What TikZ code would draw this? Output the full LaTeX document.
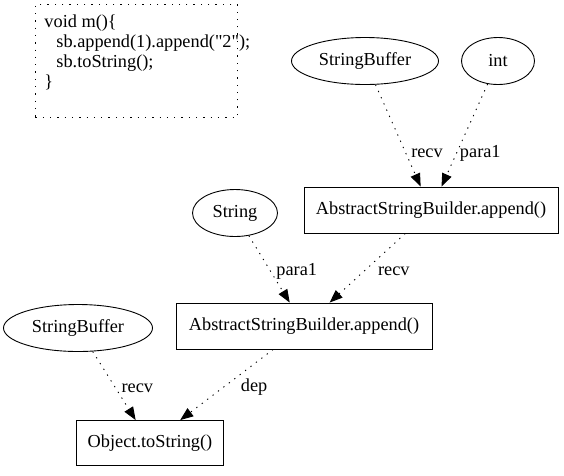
\documentclass[tikz,border=0pt]{standalone}
\usepackage{fontspec}
\setmainfont{Liberation Serif}
\newfontfamily\codefont{Liberation Serif}
\usetikzlibrary{arrows.meta, shapes.geometric}

\begin{document}
\begin{tikzpicture}[x=1pt, y=-1pt, line width=0.9pt,
    font=\fontsize{18.3}{20}\selectfont,
    obj/.style={draw, ellipse, minimum height=47pt, inner sep=0pt},
    call/.style={draw, rectangle, minimum height=46pt, inner sep=0pt},
    flow/.style={-{Triangle[length=13pt, width=10pt]}, dash pattern=on 1.3pt off 5.5pt},
    lbl/.style={anchor=base west, inner sep=0pt}]
  \useasboundingbox (0,0) rectangle (564,475);

  % source snippet
  \node[draw, dash pattern=on 1.3pt off 6pt, anchor=north west,
    minimum width=202pt, minimum height=113pt, inner sep=0pt] (code) at (35,4) {};
  \node[anchor=north west, align=left, inner sep=0pt, font=\codefont\fontsize{18.3}{20}\selectfont] (src) at (44,14)
    {void m()\{\\\hspace*{12pt}sb.append(1).append("2");\\\hspace*{12pt}sb.toString();\\\}};

  % nodes
  \node[obj, minimum width=147pt] (sb1) at (365,61) {StringBuffer};
  \node[obj, minimum width=73pt] (int) at (498,61) {int};
  \node[call, minimum width=254pt] (app1) at (431,210) {AbstractStringBuilder.append()};
  \node[obj, minimum width=85pt] (str) at (235,213) {String};
  \node[call, minimum width=256pt] (app2) at (304,326) {AbstractStringBuilder.append()};
  \node[obj, minimum width=149pt] (sb2) at (78,328) {StringBuffer};
  \node[call, minimum width=147pt, minimum height=45pt] (tostr) at (150,443) {Object.toString()};

  % edges
  \draw[flow] (sb1) -- node[lbl, pos=0.716, xshift=3pt] {recv} (app1);
  \draw[flow] (int) -- node[lbl, pos=0.718, xshift=5pt] {para1} (app1);
  \draw[flow] (str) -- node[lbl, pos=0.59, xshift=3pt] {para1} (app2);
  \draw[flow] (app1) -- node[lbl, pos=0.604, xshift=18pt] {recv} (app2);
  \draw[flow] (sb2) -- node[lbl, pos=0.592, xshift=3pt] {recv} (tostr);
  \draw[flow] (app2) -- node[lbl, pos=0.599, xshift=23pt] {dep} (tostr);
\end{tikzpicture}
\end{document}
